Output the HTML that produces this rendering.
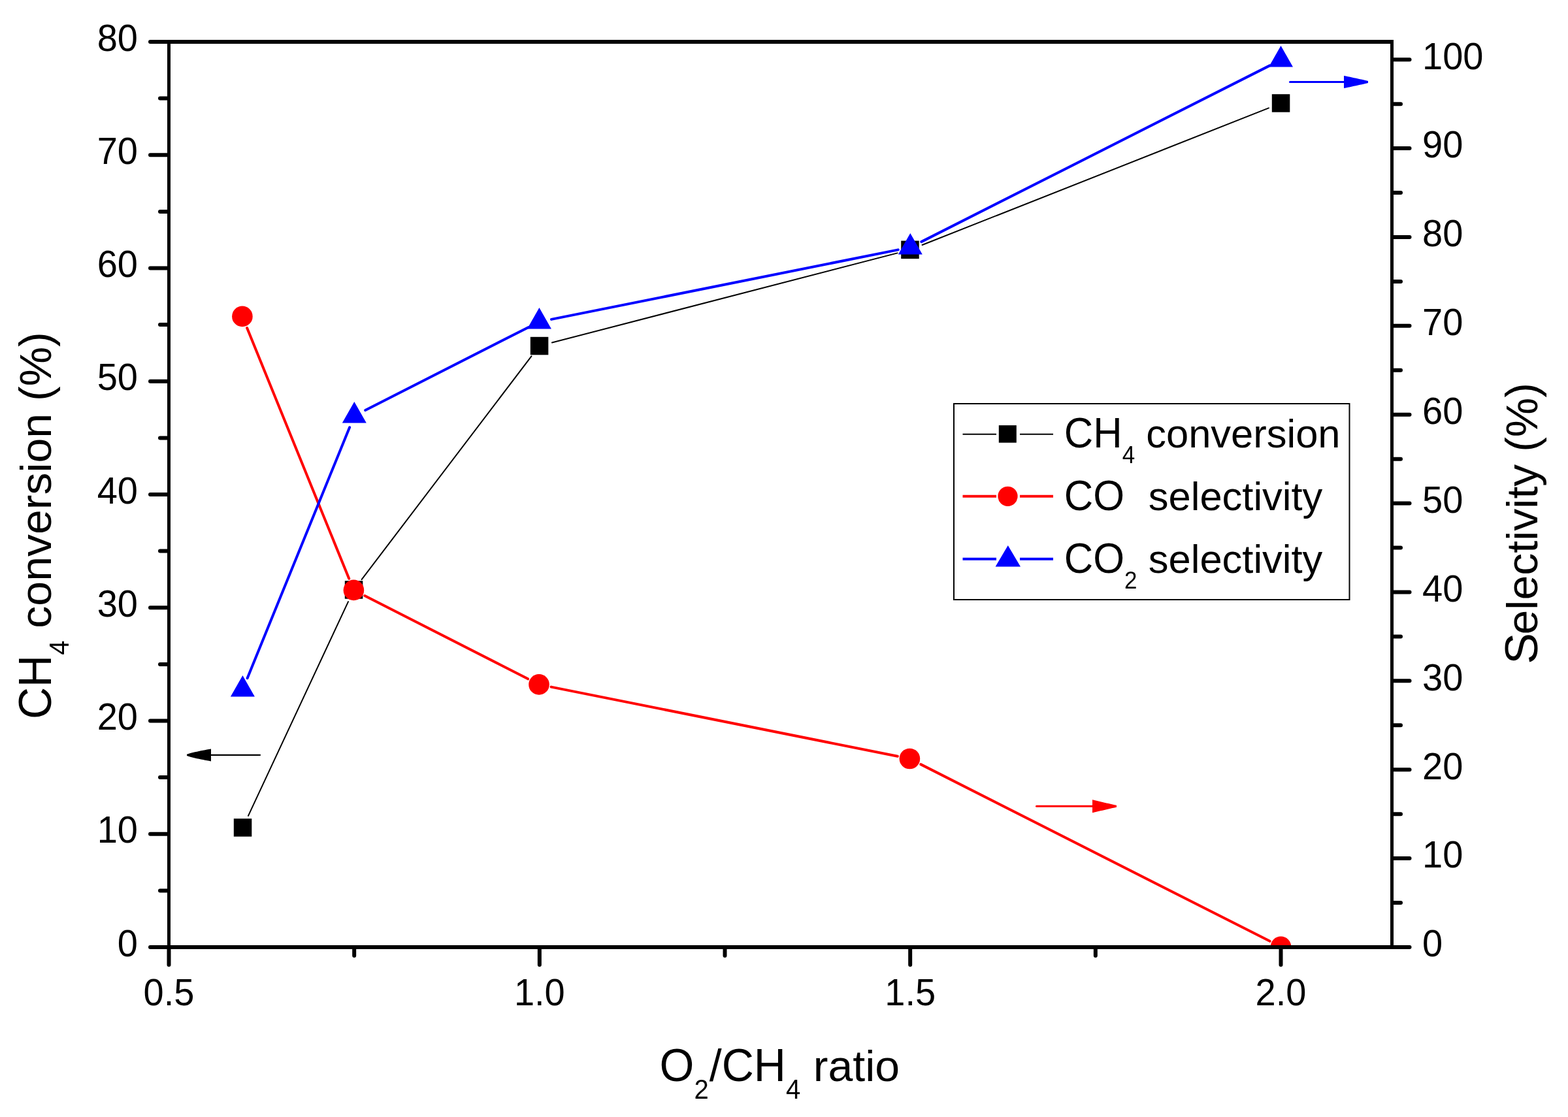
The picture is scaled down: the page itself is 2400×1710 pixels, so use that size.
<!DOCTYPE html>
<html><head><meta charset="utf-8"><title>CH4 conversion chart</title>
<style>
html,body{margin:0;padding:0;background:#fff;}
body{width:2400px;height:1710px;overflow:hidden;}
svg{display:block;}
text{white-space:pre;}
</style></head><body>
<svg width="2400" height="1710" viewBox="0 0 2400 1710" xml:space="preserve">
<rect width="2400" height="1710" fill="#fff"/>
<defs><clipPath id="pa"><rect x="258.5" y="64.0" width="1872.0" height="1386.0"/></clipPath></defs>
<g clip-path="url(#pa)">
<line x1="380.0" y1="1248.9" x2="533.0" y2="921.1" stroke="#000" stroke-width="2" stroke-linecap="round"/>
<line x1="553.6" y1="887.1" x2="813.4" y2="545.4" stroke="#000" stroke-width="2" stroke-linecap="round"/>
<line x1="844.9" y1="524.5" x2="1373.6" y2="387.4" stroke="#000" stroke-width="2" stroke-linecap="round"/>
<line x1="1411.6" y1="375.0" x2="1941.9" y2="165.4" stroke="#000" stroke-width="2" stroke-linecap="round"/>
<line x1="378.1" y1="502.0" x2="534.2" y2="885.8" stroke="#f00" stroke-width="4" stroke-linecap="round"/>
<line x1="558.3" y1="912.0" x2="808.1" y2="1039.3" stroke="#f00" stroke-width="4" stroke-linecap="round"/>
<line x1="843.6" y1="1051.6" x2="1373.8" y2="1157.8" stroke="#f00" stroke-width="4" stroke-linecap="round"/>
<line x1="1409.3" y1="1170.1" x2="1943.6" y2="1440.8" stroke="#f00" stroke-width="4" stroke-linecap="round"/>
<line x1="378.6" y1="1038.2" x2="535.1" y2="654.2" stroke="#00f" stroke-width="4" stroke-linecap="round"/>
<line x1="559.2" y1="628.0" x2="808.5" y2="501.2" stroke="#00f" stroke-width="4" stroke-linecap="round"/>
<line x1="844.0" y1="488.9" x2="1374.7" y2="382.4" stroke="#00f" stroke-width="4" stroke-linecap="round"/>
<line x1="1410.3" y1="370.1" x2="1943.5" y2="100.4" stroke="#00f" stroke-width="4" stroke-linecap="round"/>
<rect x="357.8" y="1253.2" width="27.5" height="27.5" fill="#000"/>
<rect x="527.8" y="889.2" width="27.5" height="27.5" fill="#000"/>
<rect x="811.8" y="515.8" width="27.5" height="27.5" fill="#000"/>
<rect x="1379.2" y="368.6" width="27.5" height="27.5" fill="#000"/>
<rect x="1946.8" y="144.2" width="27.5" height="27.5" fill="#000"/>
<circle cx="370.9" cy="484.4" r="15.8" fill="#f00"/>
<circle cx="541.4" cy="903.4" r="15.8" fill="#f00"/>
<circle cx="825.0" cy="1047.9" r="15.8" fill="#f00"/>
<circle cx="1392.4" cy="1161.5" r="15.8" fill="#f00"/>
<circle cx="1960.5" cy="1449.4" r="15.8" fill="#f00"/>
<polygon points="371.4,1034.1 389.9,1066.6 352.9,1066.6" fill="#00f"/>
<polygon points="542.3,614.9 560.8,647.4 523.8,647.4" fill="#00f"/>
<polygon points="825.4,470.9 843.9,503.4 806.9,503.4" fill="#00f"/>
<polygon points="1393.3,357.0 1411.8,389.5 1374.8,389.5" fill="#00f"/>
<polygon points="1960.5,70.1 1979.0,102.6 1942.0,102.6" fill="#00f"/>
</g>
<line x1="398" y1="1155.9" x2="323" y2="1155.9" stroke="#000" stroke-width="2.1" stroke-linecap="round"/><polygon points="286.00,1154.85 289.08,1153.69 292.17,1152.83 295.25,1152.06 298.33,1151.34 301.42,1150.66 304.50,1150.00 307.58,1149.36 310.67,1148.74 313.75,1148.14 316.83,1147.55 319.92,1146.97 323.00,1146.40 323.00,1165.40 319.92,1164.83 316.83,1164.25 313.75,1163.66 310.67,1163.06 307.58,1162.44 304.50,1161.80 301.42,1161.14 298.33,1160.46 295.25,1159.74 292.17,1158.97 289.08,1158.11 286.00,1156.95" fill="#000"/>
<line x1="1586.5" y1="1234.3" x2="1672" y2="1234.3" stroke="#f00" stroke-width="3.0" stroke-linecap="round"/><polygon points="1709.00,1232.80 1705.92,1232.17 1702.83,1231.50 1699.75,1230.82 1696.67,1230.12 1693.58,1229.41 1690.50,1228.69 1687.42,1227.97 1684.33,1227.25 1681.25,1226.52 1678.17,1225.78 1675.08,1225.04 1672.00,1224.30 1672.00,1244.30 1675.08,1243.56 1678.17,1242.82 1681.25,1242.08 1684.33,1241.35 1687.42,1240.63 1690.50,1239.91 1693.58,1239.19 1696.67,1238.48 1699.75,1237.78 1702.83,1237.10 1705.92,1236.43 1709.00,1235.80" fill="#f00"/>
<line x1="1974.5" y1="125.5" x2="2057" y2="125.5" stroke="#00f" stroke-width="3.0" stroke-linecap="round"/><polygon points="2094.00,124.00 2090.92,123.24 2087.83,122.52 2084.75,121.83 2081.67,121.15 2078.58,120.47 2075.50,119.81 2072.42,119.15 2069.33,118.49 2066.25,117.84 2063.17,117.19 2060.08,116.54 2057.00,115.90 2057.00,135.10 2060.08,134.46 2063.17,133.81 2066.25,133.16 2069.33,132.51 2072.42,131.85 2075.50,131.19 2078.58,130.53 2081.67,129.85 2084.75,129.17 2087.83,128.48 2090.92,127.76 2094.00,127.00" fill="#00f"/>
<line x1="256.0" y1="1450.0" x2="2133.0" y2="1450.0" stroke="#000" stroke-width="6"/>
<line x1="256.0" y1="64.0" x2="2133.0" y2="64.0" stroke="#000" stroke-width="6"/>
<line x1="258.5" y1="61.0" x2="258.5" y2="1453.0" stroke="#000" stroke-width="5"/>
<line x1="2130.5" y1="61.0" x2="2130.5" y2="1453.0" stroke="#000" stroke-width="5"/>
<line x1="230" y1="1450.00" x2="255.5" y2="1450.00" stroke="#000" stroke-width="6" stroke-linecap="round"/>
<line x1="245" y1="1363.38" x2="255.5" y2="1363.38" stroke="#000" stroke-width="6" stroke-linecap="round"/>
<line x1="230" y1="1276.75" x2="255.5" y2="1276.75" stroke="#000" stroke-width="6" stroke-linecap="round"/>
<line x1="245" y1="1190.12" x2="255.5" y2="1190.12" stroke="#000" stroke-width="6" stroke-linecap="round"/>
<line x1="230" y1="1103.50" x2="255.5" y2="1103.50" stroke="#000" stroke-width="6" stroke-linecap="round"/>
<line x1="245" y1="1016.88" x2="255.5" y2="1016.88" stroke="#000" stroke-width="6" stroke-linecap="round"/>
<line x1="230" y1="930.25" x2="255.5" y2="930.25" stroke="#000" stroke-width="6" stroke-linecap="round"/>
<line x1="245" y1="843.62" x2="255.5" y2="843.62" stroke="#000" stroke-width="6" stroke-linecap="round"/>
<line x1="230" y1="757.00" x2="255.5" y2="757.00" stroke="#000" stroke-width="6" stroke-linecap="round"/>
<line x1="245" y1="670.38" x2="255.5" y2="670.38" stroke="#000" stroke-width="6" stroke-linecap="round"/>
<line x1="230" y1="583.75" x2="255.5" y2="583.75" stroke="#000" stroke-width="6" stroke-linecap="round"/>
<line x1="245" y1="497.12" x2="255.5" y2="497.12" stroke="#000" stroke-width="6" stroke-linecap="round"/>
<line x1="230" y1="410.50" x2="255.5" y2="410.50" stroke="#000" stroke-width="6" stroke-linecap="round"/>
<line x1="245" y1="323.88" x2="255.5" y2="323.88" stroke="#000" stroke-width="6" stroke-linecap="round"/>
<line x1="230" y1="237.25" x2="255.5" y2="237.25" stroke="#000" stroke-width="6" stroke-linecap="round"/>
<line x1="245" y1="150.62" x2="255.5" y2="150.62" stroke="#000" stroke-width="6" stroke-linecap="round"/>
<line x1="230" y1="64.00" x2="255.5" y2="64.00" stroke="#000" stroke-width="6" stroke-linecap="round"/>
<line x1="2133.5" y1="1450.00" x2="2157.5" y2="1450.00" stroke="#000" stroke-width="6" stroke-linecap="round"/>
<line x1="2133.5" y1="1382.06" x2="2144" y2="1382.06" stroke="#000" stroke-width="6" stroke-linecap="round"/>
<line x1="2133.5" y1="1314.12" x2="2157.5" y2="1314.12" stroke="#000" stroke-width="6" stroke-linecap="round"/>
<line x1="2133.5" y1="1246.18" x2="2144" y2="1246.18" stroke="#000" stroke-width="6" stroke-linecap="round"/>
<line x1="2133.5" y1="1178.24" x2="2157.5" y2="1178.24" stroke="#000" stroke-width="6" stroke-linecap="round"/>
<line x1="2133.5" y1="1110.30" x2="2144" y2="1110.30" stroke="#000" stroke-width="6" stroke-linecap="round"/>
<line x1="2133.5" y1="1042.36" x2="2157.5" y2="1042.36" stroke="#000" stroke-width="6" stroke-linecap="round"/>
<line x1="2133.5" y1="974.42" x2="2144" y2="974.42" stroke="#000" stroke-width="6" stroke-linecap="round"/>
<line x1="2133.5" y1="906.48" x2="2157.5" y2="906.48" stroke="#000" stroke-width="6" stroke-linecap="round"/>
<line x1="2133.5" y1="838.54" x2="2144" y2="838.54" stroke="#000" stroke-width="6" stroke-linecap="round"/>
<line x1="2133.5" y1="770.60" x2="2157.5" y2="770.60" stroke="#000" stroke-width="6" stroke-linecap="round"/>
<line x1="2133.5" y1="702.66" x2="2144" y2="702.66" stroke="#000" stroke-width="6" stroke-linecap="round"/>
<line x1="2133.5" y1="634.72" x2="2157.5" y2="634.72" stroke="#000" stroke-width="6" stroke-linecap="round"/>
<line x1="2133.5" y1="566.78" x2="2144" y2="566.78" stroke="#000" stroke-width="6" stroke-linecap="round"/>
<line x1="2133.5" y1="498.84" x2="2157.5" y2="498.84" stroke="#000" stroke-width="6" stroke-linecap="round"/>
<line x1="2133.5" y1="430.90" x2="2144" y2="430.90" stroke="#000" stroke-width="6" stroke-linecap="round"/>
<line x1="2133.5" y1="362.96" x2="2157.5" y2="362.96" stroke="#000" stroke-width="6" stroke-linecap="round"/>
<line x1="2133.5" y1="295.02" x2="2144" y2="295.02" stroke="#000" stroke-width="6" stroke-linecap="round"/>
<line x1="2133.5" y1="227.08" x2="2157.5" y2="227.08" stroke="#000" stroke-width="6" stroke-linecap="round"/>
<line x1="2133.5" y1="159.14" x2="2144" y2="159.14" stroke="#000" stroke-width="6" stroke-linecap="round"/>
<line x1="2133.5" y1="91.20" x2="2157.5" y2="91.20" stroke="#000" stroke-width="6" stroke-linecap="round"/>
<line x1="258.50" y1="1453.0" x2="258.50" y2="1477" stroke="#000" stroke-width="6" stroke-linecap="round"/>
<line x1="542.17" y1="1453.0" x2="542.17" y2="1463" stroke="#000" stroke-width="6" stroke-linecap="round"/>
<line x1="825.83" y1="1453.0" x2="825.83" y2="1477" stroke="#000" stroke-width="6" stroke-linecap="round"/>
<line x1="1109.50" y1="1453.0" x2="1109.50" y2="1463" stroke="#000" stroke-width="6" stroke-linecap="round"/>
<line x1="1393.17" y1="1453.0" x2="1393.17" y2="1477" stroke="#000" stroke-width="6" stroke-linecap="round"/>
<line x1="1676.83" y1="1453.0" x2="1676.83" y2="1463" stroke="#000" stroke-width="6" stroke-linecap="round"/>
<line x1="1960.50" y1="1453.0" x2="1960.50" y2="1477" stroke="#000" stroke-width="6" stroke-linecap="round"/>
<g font-family='"Liberation Sans", Arial, sans-serif' fill="#000">
<text transform="translate(211.0,1463.6) scale(1,1.04)" font-size="56" text-anchor="end">0</text>
<text transform="translate(211.0,1290.3) scale(1,1.04)" font-size="56" text-anchor="end">10</text>
<text transform="translate(211.0,1117.1) scale(1,1.04)" font-size="56" text-anchor="end">20</text>
<text transform="translate(211.0,943.9) scale(1,1.04)" font-size="56" text-anchor="end">30</text>
<text transform="translate(211.0,770.6) scale(1,1.04)" font-size="56" text-anchor="end">40</text>
<text transform="translate(211.0,597.4) scale(1,1.04)" font-size="56" text-anchor="end">50</text>
<text transform="translate(211.0,424.1) scale(1,1.04)" font-size="56" text-anchor="end">60</text>
<text transform="translate(211.0,250.8) scale(1,1.04)" font-size="56" text-anchor="end">70</text>
<text transform="translate(211.0,77.6) scale(1,1.04)" font-size="56" text-anchor="end">80</text>
<text transform="translate(2177.0,1464.3) scale(1,1.04)" font-size="56">0</text>
<text transform="translate(2177.0,1328.4) scale(1,1.04)" font-size="56">10</text>
<text transform="translate(2177.0,1192.5) scale(1,1.04)" font-size="56">20</text>
<text transform="translate(2177.0,1056.7) scale(1,1.04)" font-size="56">30</text>
<text transform="translate(2177.0,920.8) scale(1,1.04)" font-size="56">40</text>
<text transform="translate(2177.0,784.9) scale(1,1.04)" font-size="56">50</text>
<text transform="translate(2177.0,649.0) scale(1,1.04)" font-size="56">60</text>
<text transform="translate(2177.0,513.1) scale(1,1.04)" font-size="56">70</text>
<text transform="translate(2177.0,377.3) scale(1,1.04)" font-size="56">80</text>
<text transform="translate(2177.0,241.4) scale(1,1.04)" font-size="56">90</text>
<text transform="translate(2177.0,105.5) scale(1,1.04)" font-size="56">100</text>
<text transform="translate(258.5,1539.3) scale(1,1.04)" font-size="56" text-anchor="middle">0.5</text>
<text transform="translate(825.8,1539.3) scale(1,1.04)" font-size="56" text-anchor="middle">1.0</text>
<text transform="translate(1393.2,1539.3) scale(1,1.04)" font-size="56" text-anchor="middle">1.5</text>
<text transform="translate(1960.5,1539.3) scale(1,1.04)" font-size="56" text-anchor="middle">2.0</text>
</g>
<g font-family='"Liberation Sans", Arial, sans-serif' fill="#000">
<text transform="translate(1009.50,1655.2) scale(1,1.04)" font-size="68">O</text>
<text transform="translate(1062.39,1682.0) scale(1,1.04)" font-size="40">2</text>
<text transform="translate(1085.80,1655.2) scale(1,1.0)" font-size="68">/</text>
<text transform="translate(1104.68,1655.2) scale(1,1.04)" font-size="68">CH</text>
<text transform="translate(1202.89,1682.0) scale(1,1.04)" font-size="40">4</text>
<text transform="translate(1225.90,1655.2) scale(1,0.985)" font-size="68"> ratio</text>
<text transform="translate(78,1101) rotate(-90) translate(0.00,0) scale(1,1.04)" font-size="68">CH</text>
<text transform="translate(78,1101) rotate(-90) translate(98.20,26.8) scale(1,1.04)" font-size="40">4</text>
<text transform="translate(78,1101) rotate(-90) translate(120.46,0) scale(1,0.985)" font-size="68"> conversion</text>
<text transform="translate(78,1101) rotate(-90) translate(468.12,0) scale(1,1.02)" font-size="68"> (%)</text>
<text transform="translate(2353,1016.8) rotate(-90) translate(0.00,0) scale(1,0.985)" font-size="68"><tspan font-size="71.8">S</tspan><tspan dx="-2.53">electivity</tspan></text>
<text transform="translate(2353,1016.8) rotate(-90) translate(306.04,0) scale(1,1.02)" font-size="68"> (%)</text>
</g>
<rect x="1460" y="618" width="605.5" height="300" fill="none" stroke="#000" stroke-width="2"/>
<line x1="1473.5" y1="664.7" x2="1525" y2="664.7" stroke="#000" stroke-width="2"/><line x1="1561" y1="664.7" x2="1612" y2="664.7" stroke="#000" stroke-width="2"/>
<rect x="1528.8" y="651.1" width="27" height="26.6" fill="#000"/>
<line x1="1473.5" y1="759.8" x2="1525" y2="759.8" stroke="#f00" stroke-width="4"/><line x1="1561" y1="759.8" x2="1612" y2="759.8" stroke="#f00" stroke-width="4"/>
<circle cx="1542.5" cy="759.8" r="15.1" fill="#f00"/>
<line x1="1473.5" y1="855.8" x2="1525" y2="855.8" stroke="#00f" stroke-width="4"/><line x1="1561" y1="855.8" x2="1612" y2="855.8" stroke="#00f" stroke-width="4"/>
<polygon points="1542.8,835 1562,867.5 1523.6,867.5" fill="#00f"/>
<g font-family='"Liberation Sans", Arial, sans-serif' fill="#000">
<text transform="translate(1628.80,684.9) scale(1,1.04)" font-size="61.5">CH</text>
<text transform="translate(1717.63,708.8) scale(1,1.04)" font-size="35">4</text>
<text transform="translate(1737.10,684.9) scale(1,0.985)" font-size="61.5"> conversion</text>
<text transform="translate(1628.80,780.85) scale(1,1.04)" font-size="61.5">CO</text>
<text transform="translate(1740.70,780.85) scale(1,0.985)" font-size="61.5"> selectivity</text>
<text transform="translate(1628.80,876.8) scale(1,1.04)" font-size="61.5">CO</text>
<text transform="translate(1721.05,900.6999999999999) scale(1,1.04)" font-size="35">2</text>
<text transform="translate(1740.70,876.8) scale(1,0.985)" font-size="61.5"> selectivity</text>
</g>
</svg>
</body></html>
